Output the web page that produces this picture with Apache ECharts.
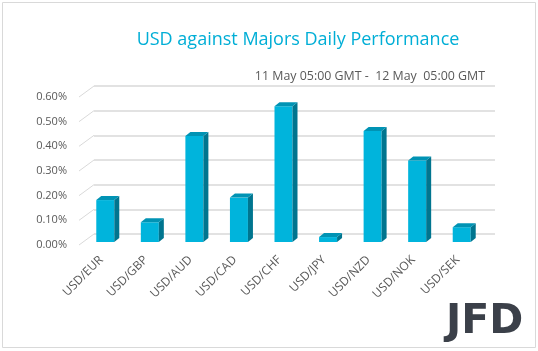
<!DOCTYPE html>
<html>
<head>
<meta charset="utf-8">
<script src="https://cdn.jsdelivr.net/npm/echarts@6/dist/echarts.min.js"></script>
<style>
  html, body { margin: 0; padding: 0; background: #fff; }
  #chart { width: 538px; height: 351px; }
</style>
</head>
<body>
<div id="chart"></div>
<script>
const categories = ['USD/EUR', 'USD/GBP', 'USD/AUD', 'USD/CAD', 'USD/CHF', 'USD/JPY', 'USD/NZD', 'USD/NOK', 'USD/SEK'];
const performance = [0.17, 0.08, 0.43, 0.18, 0.55, 0.02, 0.45, 0.33, 0.06];
const yTicks = [0, 0.1, 0.2, 0.3, 0.4, 0.5, 0.6];

// 3d look: back wall offset and bar offset from the front plane
const wallDx = 15, wallDy = -11;
const barDx = 4, barDy = -3;
const barW = 18, depthX = 5, depthY = 4;

const font = '"Open Sans", sans-serif';
const chart = echarts.init(document.getElementById('chart'));

function renderBar(params, api) {
  const i = api.value(0);
  const top = api.coord([i, api.value(1)]);
  const base = api.coord([i, 0]);
  const cx = top[0] + barDx;
  const ty = top[1] + barDy;
  const by = base[1] + barDy;
  const l = cx - barW / 2, r = cx + barW / 2;
  return {
    type: 'group',
    children: [
      { type: 'rect', shape: { x: l, y: ty, width: barW, height: by - ty }, style: { fill: '#00B4DC' } },
      { type: 'polygon', shape: { points: [[r, ty], [r + depthX, ty - depthY], [r + depthX, by - depthY], [r, by]] }, style: { fill: '#00758F' } },
      { type: 'polygon', shape: { points: [[l, ty], [l + depthX, ty - depthY], [r + depthX, ty - depthY], [r, ty]] }, style: { fill: '#0093B4' } }
    ]
  };
}

function renderDiag(params, api) {
  const p = api.coord([0, api.value(1)]);
  const x = params.coordSys.x;
  return {
    type: 'line',
    shape: { x1: x, y1: p[1], x2: x + wallDx, y2: p[1] + wallDy },
    style: { stroke: '#d9d9d9', lineWidth: 1 }
  };
}

chart.setOption({
  animation: false,
  title: [
    {
      text: 'USD against Majors Daily Performance',
      left: 293, top: 26, textAlign: 'center',
      textStyle: { color: '#00AED6', fontSize: 18, fontWeight: 'normal', fontFamily: font }
    },
    {
      text: '11 May 05:00 GMT -  12 May  05:00 GMT',
      right: 48, top: 65,
      textStyle: { color: '#595959', fontSize: 12.4, fontWeight: 'normal', fontFamily: font }
    }
  ],
  grid: [
    { left: 79, width: 401, top: 97, height: 148 },
    { left: 79 + wallDx, width: 401, top: 97 + wallDy, height: 148 }
  ],
  xAxis: [
    {
      type: 'category', data: categories, gridIndex: 0,
      axisLine: { show: false }, axisTick: { show: false },
      axisLabel: { rotate: 45, margin: 13, color: '#595959', fontSize: 12, fontFamily: font }
    },
    {
      type: 'category', data: categories, gridIndex: 1,
      axisLine: { show: false }, axisTick: { show: false }, axisLabel: { show: false }
    }
  ],
  yAxis: [
    {
      type: 'value', min: 0, max: 0.6, interval: 0.1, gridIndex: 0,
      axisLine: { show: false }, axisTick: { show: false }, splitLine: { show: false },
      axisLabel: { margin: 12, color: '#595959', fontSize: 11, fontFamily: font,
        formatter: v => v.toFixed(2) + '%' }
    },
    {
      type: 'value', min: 0, max: 0.6, interval: 0.1, gridIndex: 1,
      axisLine: { show: false }, axisTick: { show: false }, axisLabel: { show: false },
      splitLine: { lineStyle: { color: '#d9d9d9', width: 1.5 } }
    }
  ],
  series: [
    {
      type: 'custom', xAxisIndex: 0, yAxisIndex: 0,
      renderItem: renderDiag,
      data: yTicks.map(v => [0, v]),
      silent: true
    },
    {
      type: 'custom', xAxisIndex: 0, yAxisIndex: 0,
      renderItem: renderBar,
      data: performance.map((v, i) => [i, v])
    }
  ],
  graphic: [
    {
      type: 'rect', shape: { x: 2.5, y: 2.5, width: 533, height: 345 },
      style: { fill: 'none', stroke: '#d9d9d9', lineWidth: 1 }
    },
    {
      type: 'text', left: 446, top: 302,
      style: { text: 'JFD', fill: '#3B4049', font: 'bold 41px "DejaVu Sans", sans-serif' }
    }
  ]
});
</script>
</body>
</html>
